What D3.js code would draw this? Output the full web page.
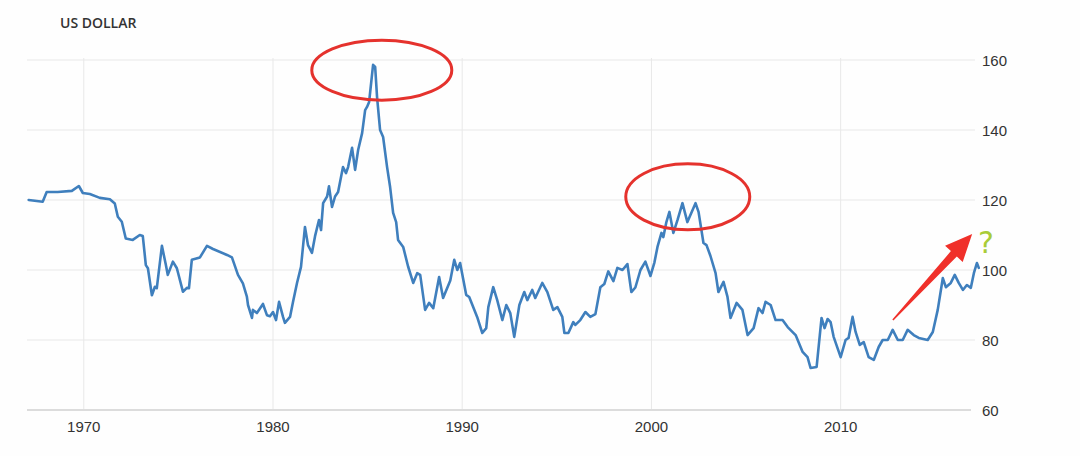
<!DOCTYPE html>
<html>
<head>
<meta charset="utf-8">
<script src="https://cdn.jsdelivr.net/npm/d3@7/dist/d3.min.js"></script>
<style>
  html, body { margin: 0; padding: 0; background: #ffffff; }
  svg { display: block; }
</style>
</head>
<body>
<svg id="chart" width="1080" height="456"></svg>
<script>
// ---- Data (decimal year, index value) ----
const years = [1967.09,1967.83,1968.04,1968.62,1969.37,1969.74,1969.95,1970.32,1970.85,1971.38,1971.64,1971.80,1972.01,1972.22,1972.59,1972.96,1973.12,1973.28,1973.39,1973.60,1973.76,1973.86,1974.13,1974.34,1974.44,1974.71,1974.92,1975.24,1975.45,1975.56,1975.71,1976.14,1976.51,1976.83,1977.57,1977.83,1978.15,1978.41,1978.62,1978.68,1978.89,1978.94,1979.15,1979.47,1979.68,1979.84,1980.00,1980.16,1980.32,1980.53,1980.63,1980.90,1981.06,1981.27,1981.48,1981.69,1981.85,1982.06,1982.22,1982.43,1982.54,1982.65,1982.86,1982.96,1983.12,1983.28,1983.44,1983.70,1983.86,1983.97,1984.18,1984.34,1984.50,1984.71,1984.87,1984.97,1985.08,1985.29,1985.40,1985.50,1985.66,1985.82,1986.03,1986.19,1986.35,1986.51,1986.61,1986.88,1987.14,1987.41,1987.62,1987.78,1988.04,1988.25,1988.47,1988.78,1988.99,1989.37,1989.58,1989.74,1989.89,1990.21,1990.37,1990.79,1991.06,1991.27,1991.38,1991.64,1991.85,1992.12,1992.33,1992.54,1992.75,1993.02,1993.28,1993.44,1993.70,1993.86,1994.23,1994.50,1994.81,1995.03,1995.29,1995.40,1995.61,1995.87,1995.98,1996.24,1996.51,1996.77,1997.04,1997.30,1997.51,1997.72,1997.99,1998.20,1998.47,1998.73,1998.94,1999.15,1999.42,1999.68,1999.95,2000.16,2000.32,2000.53,2000.63,2000.79,2000.95,2001.16,2001.38,2001.64,2001.90,2002.06,2002.33,2002.49,2002.75,2002.91,2003.12,2003.39,2003.54,2003.81,2004.02,2004.18,2004.50,2004.81,2005.08,2005.40,2005.66,2005.87,2006.03,2006.30,2006.56,2006.93,2007.20,2007.62,2007.99,2008.25,2008.41,2008.73,2008.99,2009.15,2009.31,2009.47,2009.63,2010.00,2010.26,2010.42,2010.63,2010.79,2011.01,2011.22,2011.48,2011.75,2012.01,2012.22,2012.49,2012.75,2013.02,2013.28,2013.54,2013.86,2014.13,2014.60,2014.87,2015.13,2015.40,2015.56,2015.82,2016.03,2016.24,2016.46,2016.67,2016.88,2017.04,2017.20,2017.30];
const values = [120,119.5,122.3,122.3,122.6,124,122,121.7,120.6,120.2,119,115.2,113.8,109,108.6,110,109.7,101.4,100.5,92.8,95.2,94.8,106.9,101.4,98.6,102.4,100.5,93.8,94.9,94.8,102.9,103.6,106.9,106,104.3,103.6,98.6,96.2,92.4,90,86.3,88.6,87.7,90.3,87.1,86.8,88,85.7,90.9,86.6,84.9,86.6,90.9,96.3,100.9,112.3,107.1,104.9,109.6,114.3,111.4,119.1,121,123.9,118,121,122.3,129.4,127.7,129.4,134.9,128.6,134.3,139.1,145.7,146.6,148,158.6,158,149.4,140,138,129.4,123.7,116.3,113.7,108.6,106.6,101,96.3,99.1,98.6,88.6,90.6,89.1,98,92,97,102.9,100,102,92.9,92.3,86.6,82,83.4,89.4,95.1,91.4,85.7,90,87.7,80.9,90,93.7,91.4,94.3,92,96.3,93.7,88.6,89.4,86.6,82,82,85.1,84.3,85.7,88,86.6,87.4,95.1,96,99.6,96.8,100.6,100,101.7,93.7,95,100,102.4,98.3,102.2,106.6,110.6,109.4,113.7,116.6,110.6,114.3,119.1,113.7,115.7,119.1,116.6,107.7,107.1,104,99.1,93.7,96.6,92.3,86.3,90.6,88.6,81.4,83.4,89.1,87.7,90.9,90,85.7,85.7,83.7,81.4,76.6,75.1,72,72.3,86.3,83.4,86,85.1,80.9,75.1,80,80.6,86.6,82.3,78.6,79.4,75.1,74.3,78,80,80,82.9,80,80,82.9,81.4,80.6,80,82.3,88.6,97.7,95.1,96.3,98.6,96.3,94.3,95.7,94.9,99.1,102,100.6];
const xTicks = [1970, 1980, 1990, 2000, 2010];
const yTicks = [60, 80, 100, 120, 140, 160];
const title = "US DOLLAR";

// ---- Layout ----
const svg = d3.select("#chart");
const x = d3.scaleLinear().domain([1967, 2017.1]).range([27, 975]);
const y = d3.scaleLinear().domain([60, 160]).range([410, 60]);

svg.append("rect").attr("width", 1080).attr("height", 456).attr("fill", "#fefefe");

// horizontal gridlines
svg.append("g").selectAll("line").data(yTicks.filter(d => d !== 60)).join("line")
  .attr("x1", x.range()[0]).attr("x2", x.range()[1])
  .attr("y1", d => y(d)).attr("y2", d => y(d))
  .attr("stroke", "#e8e8e8").attr("stroke-width", 1);

// vertical gridlines
svg.append("g").selectAll("line").data(xTicks).join("line")
  .attr("x1", d => x(d)).attr("x2", d => x(d))
  .attr("y1", y(160) - 2).attr("y2", y(60))
  .attr("stroke", "#e8e8e8").attr("stroke-width", 1);

// bottom axis line
svg.append("line")
  .attr("x1", x.range()[0]).attr("x2", x.range()[1] - 4)
  .attr("y1", y(60)).attr("y2", y(60))
  .attr("stroke", "#dcdcdc").attr("stroke-width", 2);

// y labels
svg.append("g").selectAll("text").data(yTicks).join("text")
  .attr("x", 982).attr("y", d => y(d) + 0.5)
  .attr("dy", "0.35em")
  .attr("font-family", "'Liberation Sans', Arial, sans-serif")
  .attr("font-size", 15).attr("fill", "#333")
  .text(d => d);

// x labels
svg.append("g").selectAll("text").data(xTicks).join("text")
  .attr("x", d => x(d)).attr("y", 427)
  .attr("dy", "0.35em").attr("text-anchor", "middle")
  .attr("font-family", "'Liberation Sans Narrow', 'Liberation Sans', Arial, sans-serif")
  .attr("font-size", 15).attr("fill", "#333")
  .text(d => d);

// title
svg.append("text").attr("x", 60).attr("y", 23.5).attr("dy", "0.35em")
  .attr("font-family", "'Open Sans', sans-serif").attr("font-weight", 600)
  .attr("font-size", 14).attr("fill", "#333").text(title);

// line
const data = years.map((t, i) => [t, values[i]]);
svg.append("path").datum(data)
  .attr("fill", "none").attr("stroke", "#3f7fbd").attr("stroke-width", 2.6)
  .attr("stroke-linejoin", "round").attr("stroke-linecap", "round")
  .attr("d", d3.line().x(d => x(d[0])).y(d => y(d[1])));

// annotations: ellipses
const red = "#e5322d";
[[1985.75, 157.1, 70, 30], [2001.92, 120.9, 62, 33]].forEach(([cx, cy, rx, ry]) => {
  svg.append("ellipse").attr("cx", x(cx)).attr("cy", y(cy))
    .attr("rx", rx).attr("ry", ry)
    .attr("fill", "none").attr("stroke", red).attr("stroke-width", 3);
});

// arrow
const t0 = [x(2012.76), y(85.7)], t1 = [x(2016.95), y(110.3)];
const dx = t1[0] - t0[0], dy = t1[1] - t0[1];
const L = Math.hypot(dx, dy);
const ang = Math.atan2(dy, dx) * 180 / Math.PI;
const headL = 27, headW = 24, shaftEnd = 8, shaftStart = 1.5;
const pts = [
  [0, -shaftStart / 2], [L - headL, -shaftEnd / 2], [L - headL, -headW / 2], [L, 0],
  [L - headL, headW / 2], [L - headL, shaftEnd / 2], [0, shaftStart / 2]
];
svg.append("path")
  .attr("transform", `translate(${t0[0]},${t0[1]}) rotate(${ang})`)
  .attr("d", "M" + pts.map(p => p.join(",")).join("L") + "Z")
  .attr("fill", "#f0302a");

// question mark
svg.append("text").attr("x", 986).attr("y", 242).attr("dy", "0.35em")
  .attr("text-anchor", "middle")
  .attr("font-family", "'DejaVu Sans', sans-serif").attr("font-size", 30)
  .attr("fill", "#a9cc38").text("?");
</script>
</body>
</html>
